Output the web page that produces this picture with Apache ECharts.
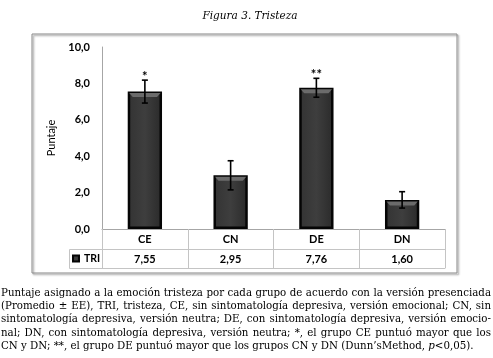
<!DOCTYPE html>
<html><head><meta charset="utf-8">
<script src="https://cdn.jsdelivr.net/npm/echarts@6/dist/echarts.min.js"></script>
<style>html,body{margin:0;padding:0;background:#fff}#c{width:493px;height:358px}</style>
</head><body><div id="c"></div>
<script>
// ---- data ----
const categories = ['CE', 'CN', 'DE', 'DN'];
const means = [7.55, 2.95, 7.76, 1.60];
const errors = [0.63, 0.80, 0.52, 0.45];
const significance = ['*', '', '**', ''];
const seriesName = 'TRI';
const yAxisName = 'Puntaje';
const titleText = 'Figura 3. Tristeza';
const captionLines = [
  'Puntaje asignado a la emoción tristeza por cada grupo de acuerdo con la versión presenciada',
  '(Promedio ± EE), TRI, tristeza, CE, sin sintomatología depresiva, versión emocional; CN, sin',
  'sintomatología depresiva, versión neutra; DE, con sintomatología depresiva, versión emocio-',
  'nal; DN, con sintomatología depresiva, versión neutra; *, el grupo CE puntuó mayor que los'
];
const captionLast = 'CN y DN; **, el grupo DE puntuó mayor que los grupos CN y DN (Dunn’sMethod, {i|p}<0,05).';

const fmt = v => v.toFixed(2).replace('.', ',');
const chartFont = 'Lato';
const capFont = 'DejaVu Serif';

// ---- caption layout (justified) ----
const ctx = document.createElement('canvas').getContext('2d');
function tw(t, s) { ctx.font = s + 'px "' + capFont + '"'; return ctx.measureText(t).width; }
const capLeft = 1, capWidth = 490;
let capSize = 10.5;
while (capSize > 7 && captionLines.some(l => tw(l, capSize) > capWidth)) capSize -= 0.25;
const capFontStr = capSize + 'px "' + capFont + '"';
const capY0 = 293, capStep = 13.3;
const captionEls = [];
captionLines.forEach((line, li) => {
  const words = line.split(' ');
  const total = words.reduce((a, wd) => a + tw(wd, capSize), 0);
  const gap = (capWidth - total) / (words.length - 1);
  let x = capLeft;
  words.forEach(wd => {
    captionEls.push({ type: 'text', x: x, y: capY0 + li * capStep,
      style: { text: wd, font: capFontStr, fill: '#000', textVerticalAlign: 'middle' } });
    x += tw(wd, capSize) + gap;
  });
});
captionEls.push({ type: 'text', x: capLeft, y: capY0 + 4 * capStep,
  style: { text: captionLast, font: capFontStr, fill: '#000', textVerticalAlign: 'middle',
    rich: { i: { fontStyle: 'italic', fontFamily: capFont, fontSize: capSize } } } });

const chart = echarts.init(document.getElementById('c'), null, { renderer: 'canvas' });
const gridLeft = 102, gridRight = 48, gridTop = 47, gridBottom = 129;
const lineGray = '#a6a6a6', tickGray = '#c4c4c4';
const lblStyle = { fontFamily: chartFont, fontWeight: 'bold', fontSize: 11, color: '#000' };
const barFrac = 0.4;

chart.setOption({
  animation: false,
  backgroundColor: '#fff',
  grid: { left: gridLeft, right: gridRight, top: gridTop, bottom: gridBottom },
  legend: {
    data: [seriesName], left: 72, top: 253, padding: 0, icon: 'rect', itemWidth: 6, itemHeight: 6,
    textStyle: Object.assign({}, lblStyle, { fontSize: 10.5 })
  },
  xAxis: [
    { type: 'category', data: categories, position: 'bottom',
      axisLine: { lineStyle: { color: lineGray } },
      axisTick: { show: true, interval: 0, length: 20, lineStyle: { color: tickGray } },
      axisLabel: Object.assign({ margin: 5 }, lblStyle) },
    { type: 'category', data: means.map(fmt), position: 'bottom', offset: 20,
      axisLine: { lineStyle: { color: tickGray } },
      axisTick: { show: true, interval: 0, length: 19, lineStyle: { color: tickGray } },
      axisLabel: Object.assign({ margin: 5 }, lblStyle) },
    { type: 'category', data: categories, position: 'bottom', offset: 39,
      axisLine: { lineStyle: { color: tickGray } },
      axisTick: { show: false }, axisLabel: { show: false } }
  ],
  yAxis: {
    type: 'value', min: 0, max: 10, interval: 2,
    name: yAxisName, nameLocation: 'middle', nameGap: 42,
    nameTextStyle: { fontFamily: chartFont, fontSize: 11, color: '#000' },
    axisLine: { show: true, lineStyle: { color: lineGray } },
    axisTick: { show: false }, splitLine: { show: false },
    axisLabel: Object.assign({ margin: 12, formatter: v => v.toFixed(1).replace('.', ',') }, lblStyle)
  },
  series: [
    { name: seriesName, type: 'bar', data: means, barWidth: (barFrac * 100) + '%', z: 2,
      itemStyle: {
        color: new echarts.graphic.LinearGradient(0, 0, 1, 0, [
          { offset: 0, color: '#333' }, { offset: 0.5, color: '#3e3e3e' }, { offset: 1, color: '#2a2a2a' }
        ]),
        borderColor: '#050505', borderWidth: 2.5
      } },
    { name: 'err', type: 'custom', z: 5,
      data: categories.map((c, i) => [i, means[i], errors[i]]),
      renderItem: function (params, api) {
        const i = api.value(0), m = api.value(1), e = api.value(2);
        const top = api.coord([i, m + e]), bot = api.coord([i, m - e]);
        const base = api.coord([i, m]);
        const hw = api.size([1, 0])[0] * barFrac / 2;
        const xl = base[0] - hw + 1.5, xr = base[0] + hw - 1.5, yt = base[1] + 1.5;
        const cap = 3;
        const st = { stroke: '#000', lineWidth: 1.6 };
        const ch = [
          { type: 'polygon', shape: { points: [[xl, yt], [xr, yt], [xr - 3.5, yt + 4], [xl + 3.5, yt + 4]] },
            style: { fill: '#6b6b6b' } },
          { type: 'line', shape: { x1: top[0], y1: top[1], x2: bot[0], y2: bot[1] }, style: st },
          { type: 'line', shape: { x1: top[0] - cap, y1: top[1], x2: top[0] + cap, y2: top[1] }, style: st },
          { type: 'line', shape: { x1: bot[0] - cap, y1: bot[1], x2: bot[0] + cap, y2: bot[1] }, style: st }
        ];
        const s = significance[params.dataIndex];
        if (s) ch.push({ type: 'text', x: top[0], y: top[1] - 3,
          style: { text: s, font: 'bold 13px "' + chartFont + '"', fill: '#000', textAlign: 'center', textVerticalAlign: 'middle' } });
        return { type: 'group', children: ch };
      }
    }
  ],
  graphic: [
    { type: 'text', x: 250, y: 16, style: { text: titleText, font: 'italic 10.5px "DejaVu Serif"', fill: '#000', textAlign: 'center', textVerticalAlign: 'middle' } },
    { type: 'rect', shape: { x: 32, y: 34, width: 425, height: 239 },
      style: { fill: 'none', stroke: '#8a8a8a', lineWidth: 1, shadowColor: 'rgba(0,0,0,0.45)', shadowBlur: 2, shadowOffsetX: 1.5, shadowOffsetY: 1.5 }, z: -1 },
    { type: 'polyline', shape: { points: [[gridLeft, 249.5], [69.5, 249.5], [69.5, 268.5], [gridLeft, 268.5]] },
      style: { stroke: tickGray, fill: 'none', lineWidth: 1 } }
  ].concat(captionEls)
});
</script></body></html>
